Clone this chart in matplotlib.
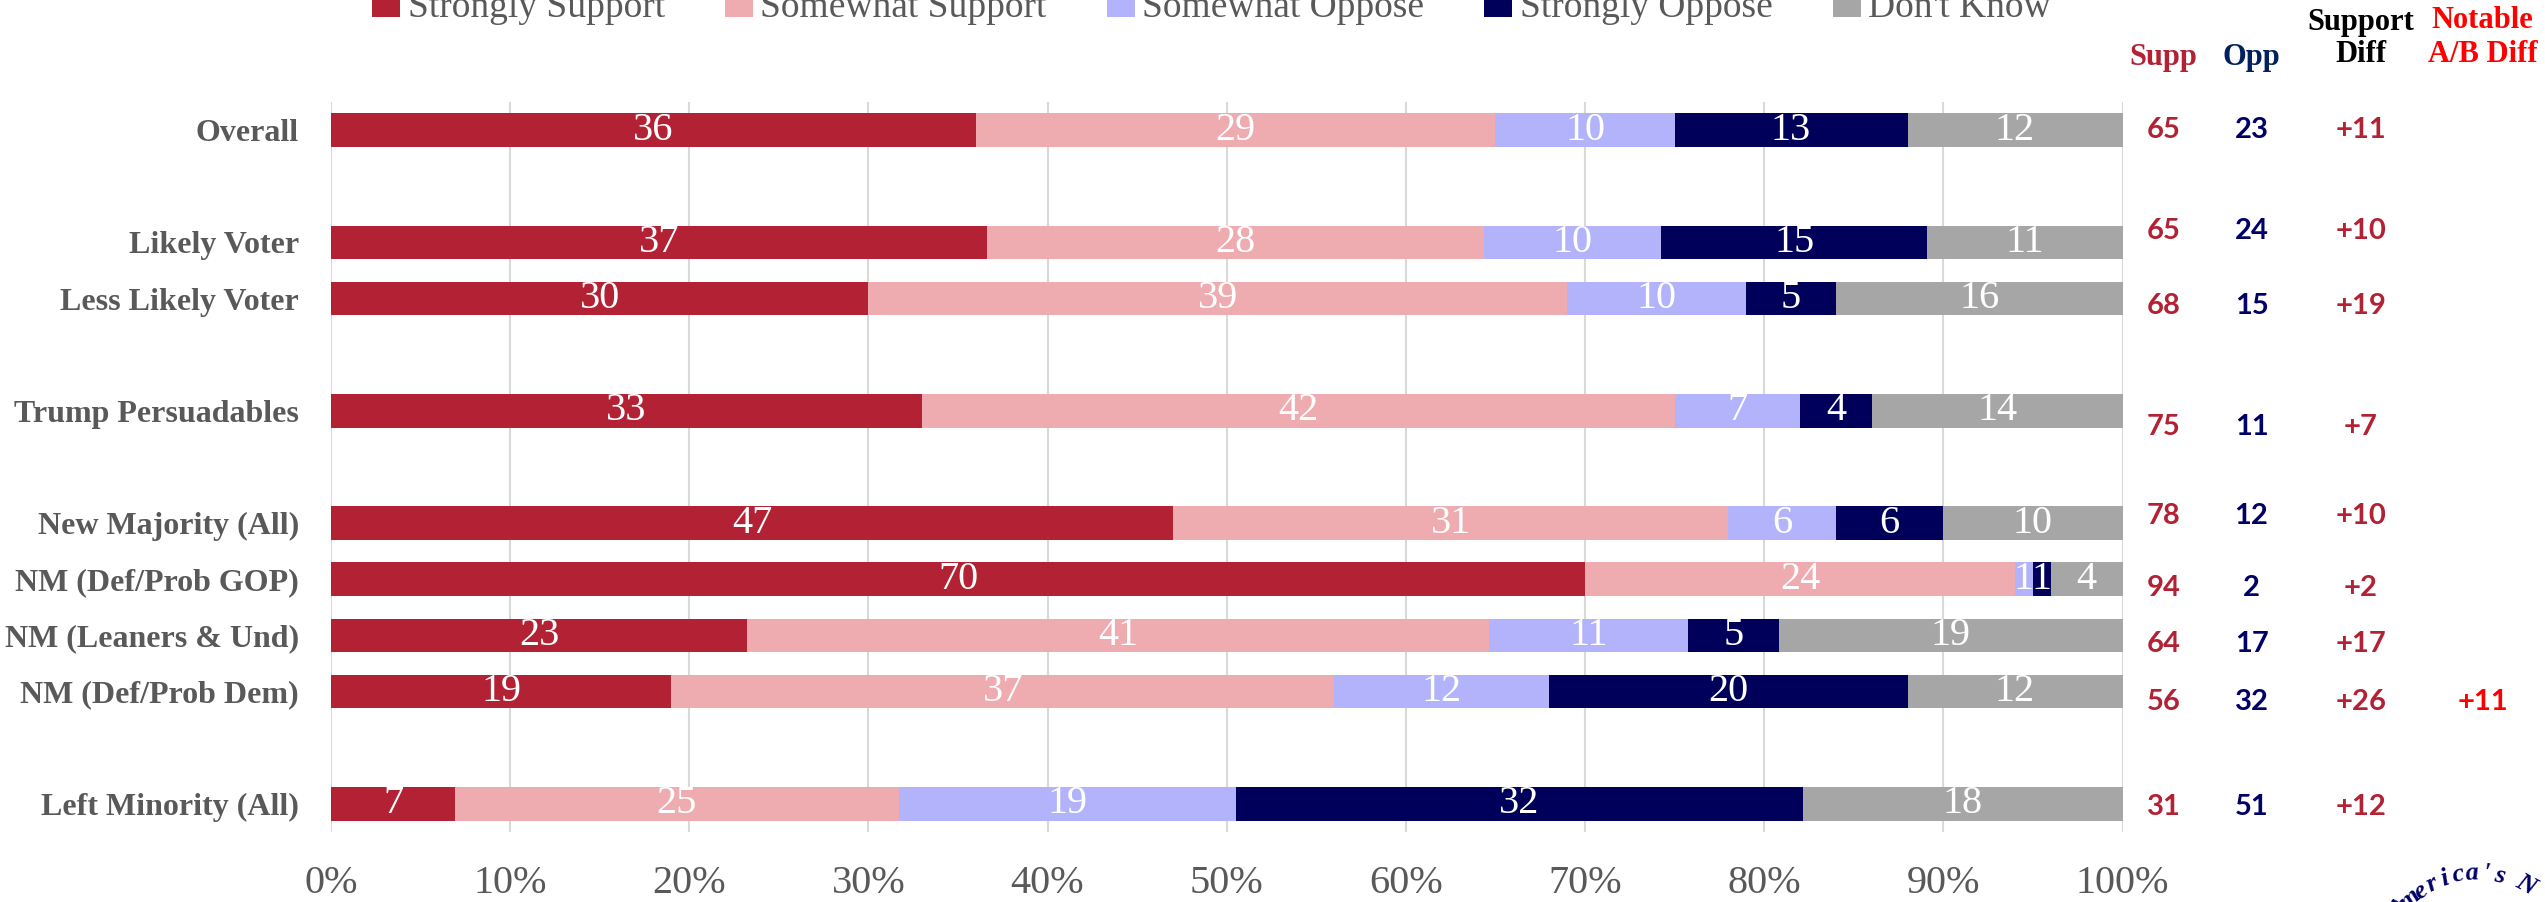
import matplotlib.pyplot as plt
import numpy as np

groups = ["Overall", "Likely Voter", "Less Likely Voter", "Trump Persuadables",
          "New Majority (All)", "NM (Def/Prob GOP)", "NM (Leaners & Und)",
          "NM (Def/Prob Dem)", "Left Minority (All)"]
answers = ["Strongly Support", "Somewhat Support", "Somewhat Oppose",
           "Strongly Oppose", "Don't Know"]
strongly_support = [36, 37, 30, 33, 47, 70, 23, 19, 7]
somewhat_support = [29, 28, 39, 42, 31, 24, 41, 37, 25]
somewhat_oppose = [10, 10, 10, 7, 6, 1, 11, 12, 19]
strongly_oppose = [13, 15, 5, 4, 6, 1, 5, 20, 32]
dont_know = [12, 11, 16, 14, 10, 4, 19, 12, 18]
supp = [65, 65, 68, 75, 78, 94, 64, 56, 31]
opp = [23, 24, 15, 11, 12, 2, 17, 32, 51]
support_diff = ["+11", "+10", "+19", "+7", "+10", "+2", "+17", "+26", "+12"]
notable_diff = ["", "", "", "", "", "", "", "+11", ""]
logo_text = "America's N"

colors = ["#B22234", "#EEABB0", "#B3B3FB", "#00005A", "#A6A6A6"]
red = "#B22234"
navy = "#000066"
gray = "#595959"
serif = ["Liberation Serif", "DejaVu Serif"]
sans = ["Lato", "DejaVu Sans"]

# layout: row slots (gaps between blocks) and small nudges of the side columns
rows = np.array([0, 2, 3, 5, 7, 8, 9, 10, 12])
side_nudge = np.array([0, -0.21, 0.14, 0.28, -0.12, 0.16, 0.16, 0.18, 0.05])

fig = plt.figure(figsize=(25.45, 9.02), dpi=100)
ax = fig.add_axes([0.130, 0.0776, 0.704, 0.8093])

series = np.array([strongly_support, somewhat_support, somewhat_oppose,
                   strongly_oppose, dont_know], dtype=float)
shares = series / series.sum(axis=0) * 100

left = np.zeros(len(groups))
for i, name in enumerate(answers):
    ax.barh(rows, shares[i], left=left, height=0.6, color=colors[i],
            label=name, zorder=3)
    for y, l, w, v in zip(rows, left, shares[i], series[i]):
        ax.text(l + w / 2, y, f"{v:.0f}", ha="center", va="center",
                color="white", fontsize=29, family=serif, zorder=4)
    left += shares[i]

ax.set_xlim(0, 100)
ax.set_ylim(12.5, -0.5)
ax.set_xticks(np.arange(0, 101, 10))
ax.set_xticklabels([f"{t}%" for t in range(0, 101, 10)])
ax.set_yticks(rows)
ax.set_yticklabels(groups)
for lab in ax.get_xticklabels():
    lab.set_family(serif)
    lab.set_fontsize(29)
    lab.set_color(gray)
for lab in ax.get_yticklabels():
    lab.set_family(serif)
    lab.set_fontsize(23)
    lab.set_fontweight("bold")
    lab.set_color(gray)
ax.tick_params(axis="x", length=0, pad=24)
ax.tick_params(axis="y", length=0, pad=23)
ax.grid(axis="x", color="#D9D9D9", linewidth=1.5, zorder=0)
for s in ax.spines.values():
    s.set_visible(False)

# side columns
col_x = [102.3, 107.2, 113.3, 120.1]
for y, n, s, o, d, nd in zip(rows, side_nudge, supp, opp, support_diff, notable_diff):
    yy = y + n
    ax.text(col_x[0], yy, str(s), ha="center", va="center", color=red,
            fontsize=21, fontweight="bold", family=sans, clip_on=False)
    ax.text(col_x[1], yy, str(o), ha="center", va="center", color=navy,
            fontsize=21, fontweight="bold", family=sans, clip_on=False)
    ax.text(col_x[2], yy, d, ha="center", va="center", color=red,
            fontsize=21, fontweight="bold", family=sans, clip_on=False)
    if nd:
        ax.text(col_x[3], yy, nd, ha="center", va="center", color="#FF0000",
                fontsize=21, fontweight="bold", family=sans, clip_on=False)

hdr = dict(ha="center", va="center", fontsize=22, fontweight="bold",
           family=serif, clip_on=False)
ax.text(col_x[0], -1.30, "Supp", color=red, **hdr)
ax.text(col_x[1], -1.30, "Opp", color="#002060", **hdr)
ax.text(col_x[2], -1.92, "Support", color="black", **hdr)
ax.text(col_x[2], -1.34, "Diff", color="black", **hdr)
ax.text(col_x[3], -1.96, "Notable", color="#FF0000", **hdr)
ax.text(col_x[3], -1.34, "A/B Diff", color="#FF0000", **hdr)

# legend, cut by the top edge as in the original
fig.legend(loc="center", bbox_to_anchor=(0.476, 0.992), ncol=5, frameon=False,
           prop={"family": serif, "size": 27}, labelcolor=gray,
           handlelength=0.75, handleheight=0.75, handletextpad=0.2,
           columnspacing=1.6)

# partial logo text along an arc, bottom right
W, H = 2545, 902
cx, cy, r = 2478, 975, 102
for k, ch in enumerate(logo_text):
    ang = np.deg2rad(140 - 7.8 * k)
    px = cx + r * np.cos(ang)
    py = cy - r * np.sin(ang)
    fig.text(px / W, 1 - py / H, ch, ha="center", va="center",
             rotation=np.rad2deg(ang) - 90, color=navy, fontsize=19,
             fontweight="bold", fontstyle="italic", family=serif)

fig.savefig("out.png", dpi=100)
